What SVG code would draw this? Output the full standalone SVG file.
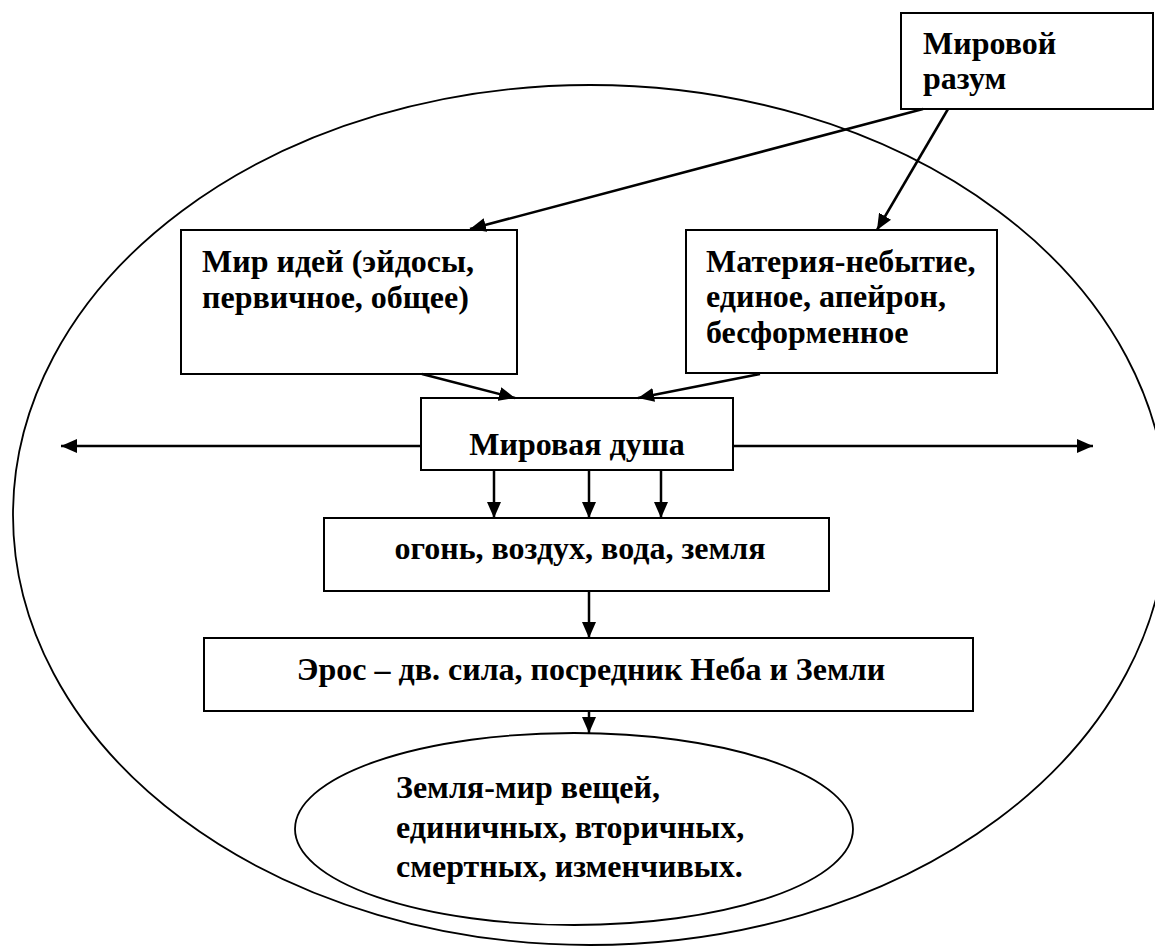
<svg xmlns="http://www.w3.org/2000/svg" width="1155" height="947" viewBox="0 0 1155 947">
  <defs>
    <marker id="ah" markerWidth="16" markerHeight="14" refX="16" refY="7" orient="auto" markerUnits="userSpaceOnUse">
      <path d="M0,0 L16,7 L0,14 Z" fill="#000"/>
    </marker>
    <style>
      .box { fill: #fff; stroke: #000; stroke-width: 2; }
      .oval { fill: none; stroke: #000; stroke-width: 1.8; }
      text { font-family: 'Liberation Serif', 'DejaVu Serif', serif; font-weight: 700; font-size: 32px; fill: #000; }
      .conn line { stroke: #000; stroke-width: 2.5; marker-end: url(#ah); }
    </style>
  </defs>
  <rect width="1155" height="947" fill="#fff"/>

  <g id="outer-world">
    <ellipse class="oval" cx="590" cy="515" rx="577" ry="430"/>
  </g>

  <g id="world-mind">
    <rect class="box" x="901" y="13" width="252" height="96"/>
    <text x="923" y="54">Мировой</text>
    <text x="923" y="89">разум</text>
  </g>

  <g id="world-of-ideas">
    <rect class="box" x="181" y="230" width="336" height="144"/>
    <text x="202" y="272">Мир идей (эйдосы,</text>
    <text x="202" y="308">первичное, общее)</text>
  </g>

  <g id="matter">
    <rect class="box" x="686" y="230" width="311" height="143"/>
    <text x="706" y="272">Материя-небытие,</text>
    <text x="706" y="307">единое, апейрон,</text>
    <text x="706" y="343">бесформенное</text>
  </g>

  <g id="world-soul">
    <rect class="box" x="421" y="398" width="312" height="72"/>
    <text x="577" y="455" text-anchor="middle">Мировая душа</text>
  </g>

  <g id="elements">
    <rect class="box" x="324" y="518" width="505" height="73"/>
    <text x="580" y="559" text-anchor="middle">огонь, воздух, вода, земля</text>
  </g>

  <g id="eros">
    <rect class="box" x="204" y="638" width="769" height="73"/>
    <text x="591" y="680" text-anchor="middle">Эрос – дв. сила, посредник Неба и Земли</text>
  </g>

  <g id="earth">
    <ellipse class="oval" cx="574" cy="829" rx="279" ry="96"/>
    <text x="396" y="798">Земля-мир вещей,</text>
    <text x="396" y="838">единичных, вторичных,</text>
    <text x="396" y="877">смертных, изменчивых.</text>
  </g>

  <g id="connectors" class="conn">
    <line x1="923" y1="109" x2="470" y2="229"/>
    <line x1="948" y1="109" x2="877" y2="230"/>
    <line x1="422" y1="374" x2="515" y2="398"/>
    <line x1="760" y1="374" x2="638" y2="398"/>
    <line x1="421" y1="446" x2="61" y2="446"/>
    <line x1="733" y1="446" x2="1093" y2="446"/>
    <line x1="494" y1="470" x2="494" y2="518"/>
    <line x1="589" y1="470" x2="589" y2="518"/>
    <line x1="661" y1="470" x2="661" y2="518"/>
    <line x1="589" y1="591" x2="589" y2="638"/>
    <line x1="589" y1="711" x2="589" y2="733"/>
  </g>
</svg>
